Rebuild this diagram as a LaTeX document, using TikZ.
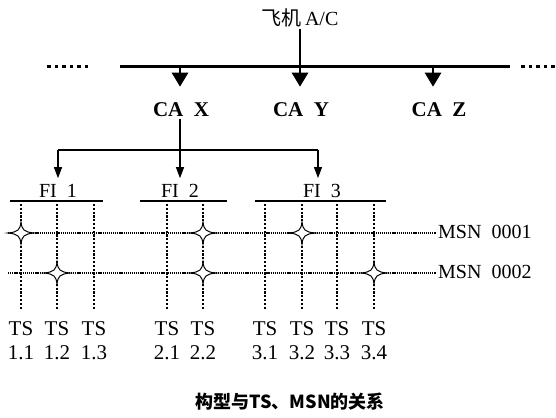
\documentclass[tikz,border=0pt]{standalone}
\usepackage{fontspec}
\setmainfont{Liberation Serif}
\newfontfamily\cjk{Noto Sans CJK SC}
\usetikzlibrary{arrows.meta}
\tikzset{
  lbl/.style={inner sep=2pt, font=\fontsize{20}{24}\selectfont},
  tslbl/.style={inner sep=2pt, font=\fontsize{21}{24}\selectfont},
  calbl/.style={inner sep=2pt, font=\fontsize{21}{24}\selectfont\bfseries},
  bus/.style={line width=3pt},
  bigarrow/.style={line width=2.6pt, -{Triangle[width=16pt,length=14pt]}, shorten >=14pt},
  conn/.style={line width=1.1pt},
  smallarrow/.style={line width=1.1pt, -{Triangle[width=8pt,length=11pt]}},
  fibar/.style={line width=2pt},
  vdots/.style={line width=2.8pt, dash pattern=on 2.2pt off 1.6pt},
  hdots/.style={line width=1.1pt, dash pattern=on 1.2pt off 0.9pt},
  enddots/.style={line width=3pt, dash pattern=on 3.5pt off 4pt},
  sparkle/.pic={
    \filldraw[fill=white, draw=black, line width=1pt]
      (-13,0) .. controls (-3,-1) and (-1,-3) .. (0,-11)
      .. controls (1,-3) and (3,-1) .. (13,0)
      .. controls (3,1) and (1,3) .. (0,11)
      .. controls (-1,3) and (-3,1) .. (-13,0) -- cycle;
  }
}
\begin{document}
\begin{tikzpicture}[x=1pt,y=-1pt]
\useasboundingbox (0,0) rectangle (556,417);
% top level
\node[lbl] (ac) at (300,18) {{\cjk 飞机}\,A/C};
\coordinate (busL) at (120,67);
\coordinate (busR) at (510,67);
\draw[bus] (busL) -- (busR);
\coordinate (dl1) at (47,67); \coordinate (dl2) at (90,67);
\coordinate (dr1) at (521,67); \coordinate (dr2) at (556,67);
\draw[enddots] (dl1) -- (dl2);
\draw[enddots] (dr1) -- (dr2);
\node[calbl] (cax) at (181,110) {CA\hspace{0.5em}X};
\node[calbl] (cay) at (301,110) {CA\hspace{0.5em}Y};
\node[calbl] (caz) at (439,110) {CA\hspace{0.5em}Z};
\coordinate (bx) at (180,67);
\coordinate (bz) at (433,67);
\draw[bigarrow] (bx) -- (bx|-cax.north);
\draw[bigarrow] (ac.south) -- (ac.south|-cay.north);
\draw[bigarrow] (bz) -- (bz|-caz.north);
% second level
\coordinate (hL) at (58,150);
\coordinate (hM) at (180,150);
\coordinate (hR) at (318,150);
\draw[conn] (bx|-cax.south) -- (hM);
\draw[conn] (hL) -- (hR);
\node[lbl] (fi1) at (58,191) {FI\hspace{0.5em}1};
\node[lbl] (fi2) at (180,191) {FI\hspace{0.5em}2};
\node[lbl] (fi3) at (322,191) {FI\hspace{0.5em}3};
\draw[smallarrow] (hL) -- ([yshift=4pt]hL|-fi1.north);
\draw[smallarrow] (hM) -- ([yshift=4pt]hM|-fi2.north);
\draw[smallarrow] (hR) -- ([yshift=4pt]hR|-fi3.north);
\draw[fibar] (10,201) -- (103,201);
\draw[fibar] (140,201) -- (227,201);
\draw[fibar] (255,201) -- (386,201);
% MSN rows
\node[lbl, anchor=west] (msn1) at (436,232) {MSN\hspace{0.5em}0001};
\node[lbl, anchor=west] (msn2) at (436,272) {MSN\hspace{0.5em}0002};
\coordinate (r1) at (8,233);
\coordinate (r2) at (8,273);
\draw[hdots] (r1) -- (r1-|msn1.west);
\draw[hdots] (r2) -- (r2-|msn2.west);
% TS columns
\foreach \n/\x/\t in {11/21/1.1, 12/57/1.2, 13/94/1.3, 21/167/2.1, 22/203/2.2, 31/265/3.1, 32/302/3.2, 33/337/3.3, 34/374/3.4}{
  \node[tslbl] (ts\n) at (\x,329) {TS};
  \node[tslbl] (num\n) at (\x,353) {\t};
  \draw[vdots] (\x,204) -- ([yshift=11pt]ts\n.north);
}
% sparkles
\foreach \x in {21,203,302} { \pic at (\x,233) {sparkle}; }
\foreach \x in {57,203,374} { \pic at (\x,273) {sparkle}; }
% caption
\node[inner sep=2pt, font=\cjk\bfseries\fontsize{18}{21}\selectfont] (cap) at (290,402) {构型与TS、MSN的关系};
\end{tikzpicture}
\end{document}
